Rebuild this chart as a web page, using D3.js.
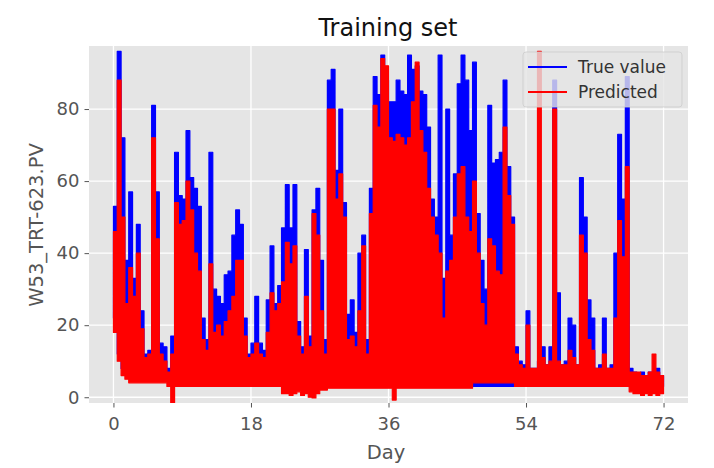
<!DOCTYPE html>
<html>
<head>
<meta charset="utf-8">
<script src="https://cdn.jsdelivr.net/npm/d3@7"></script>
<style>
  body { margin: 0; background: #ffffff; }
  text { font-family: "DejaVu Sans", sans-serif; }
</style>
</head>
<body>
<script>
var svg_width = 714;
var svg_height = 468;

// half-day bins, day 0 .. 72 (upper / lower envelope of each series)
var binStep = 0.5;
var blueHi = [53,96,72,38,57,33,48,24,12,13,81,57,15,14,8,17,68,56,55,74,
  61,58,53,22,16,68,30,28,26,34,35,45,52,48,22,12,15,28,15,13,
  27,42,26,31,47,59,47,59,21,14,41,17,52,58,38,16,88,91,63,80,
  54,23,27,18,40,45,16,58,89,84,95,88,82,82,88,85,84,95,91,92,
  85,84,75,55,50,95,33,80,45,62,87,95,88,74,93,51,38,30,81,65,
  66,68,88,64,50,14,10,9,24,8,8,10,14,9,14,88,29,9,10,22,
  20,9,61,50,27,22,8,9,22,8,9,40,73,55,89,8,7,6,7,6,
  7,7,8,6];
var redHi = [46,88,50,26,36,28,40,19,11,12,72,44,12,10,7,12,54,48,49,60,
  52,40,35,16,13,37,18,20,17,21,24,28,38,38,17,11,12,15,12,11,
  18,29,24,26,32,43,37,42,17,12,28,14,51,45,24,12,80,80,55,62,
  50,16,17,14,24,42,12,51,81,75,94,92,72,71,73,72,70,72,82,93,
  74,68,58,50,45,40,22,35,38,50,62,64,50,46,60,40,26,20,44,42,
  35,34,75,56,48,12,9,8,20,8,8,96,11,9,10,80,10,9,9,13,
  11,9,45,40,16,13,8,8,12,8,8,22,49,39,64,7,7,7,6,6,
  7,12,7,6];
var blueLo = [22,12,8,7,6,6,5,5,5,5,5,5,5,5,5,3,4,4,4,4,
  4,4,4,4,4,4,4,4,4,4,4,4,4,4,4,4,4,4,4,4,
  4,4,4,4,4,4,4,4,4,4,4,4,4,4,4,4,4,4,4,4,
  4,4,4,4,4,4,4,4,4,4,4,4,4,4,4,4,4,4,4,4,
  4,4,4,4,4,4,4,4,4,4,4,4,4,4,3,3,3,3,3,3,
  3,3,3,3,3,4,4,4,4,4,4,4,4,4,4,4,4,4,4,4,
  4,4,4,4,4,4,4,4,4,4,4,4,4,4,4,3,3,3,3,3,
  3,3,3,3];
var redLo = [18,10,6,5,4,4,4,4,4,4,4,4,4,4,3,-1.5,3,3,3,3,
  3,3,3,3,3,3,3,3,3,3,3,3,3,3,3,3,3,3,3,3,
  3,3,3,3,1,1,0.5,1,1.5,0.5,1,0,-0.2,1,2,2,2.5,2.5,2.5,2.5,
  2.5,2.5,2.5,2.5,2.5,2.5,2.5,2.5,2.5,2.5,2.5,2.5,2.5,-0.8,2.5,2.5,2.5,2.5,2.5,2.5,
  2.5,2.5,2.5,2.5,2.5,2.5,2.5,2.5,2.5,2.5,2.5,2.5,2.5,2.5,4,4,4,4,4,4,
  4,4,4,4,4,3,3,3,3,3,3,3,3,3,3,3,3,3,3,3,
  3,3,3,3,3,3,3,3,3,3,3,3,3,3,3,1.5,1,1,0.5,1,
  0.5,1,0.5,1];

var xTicks = [0, 18, 36, 54, 72];
var yTicks = [0, 20, 40, 60, 80];
var seriesNames = ["True value", "Predicted"];
var seriesColors = ["#0000ff", "#ff0000"];

var panel = { left: 89, right: 688, top: 46, bottom: 403 };

var svg = d3.select("body")
  .append("svg")
  .attr("width", svg_width)
  .attr("height", svg_height);

svg.append("rect")
  .attr("width", svg_width)
  .attr("height", svg_height)
  .attr("fill", "#ffffff");

var x = d3.scaleLinear().domain([-3.2, 75.2]).range([panel.left, panel.right]);
var y = d3.scaleLinear().domain([-1.6, 97.5]).range([panel.bottom, panel.top]);

// panel background + grid
svg.append("rect")
  .attr("x", panel.left)
  .attr("y", panel.top)
  .attr("width", panel.right - panel.left)
  .attr("height", panel.bottom - panel.top)
  .attr("fill", "#e5e5e5");

svg.append("g")
  .selectAll("line")
  .data(xTicks)
  .enter()
  .append("line")
  .attr("x1", d => x(d)).attr("x2", d => x(d))
  .attr("y1", panel.top).attr("y2", panel.bottom)
  .attr("stroke", "#ffffff").attr("stroke-width", 1.3);

svg.append("g")
  .selectAll("line")
  .data(yTicks)
  .enter()
  .append("line")
  .attr("x1", panel.left).attr("x2", panel.right)
  .attr("y1", d => y(d)).attr("y2", d => y(d))
  .attr("stroke", "#ffffff").attr("stroke-width", 1.3);

function makeSeries(hi, lo) {
  var pts = hi.map(function(v, i) {
    return { t: i * binStep, hi: v, lo: lo[i] };
  });
  var last = pts[pts.length - 1];
  pts.push({ t: hi.length * binStep, hi: last.hi, lo: last.lo });
  return pts;
}

var area = d3.area()
  .curve(d3.curveStepAfter)
  .x(d => x(d.t))
  .y0(d => y(d.lo))
  .y1(d => y(d.hi));

svg.append("clipPath").attr("id", "clip")
  .append("rect")
  .attr("x", panel.left).attr("y", panel.top)
  .attr("width", panel.right - panel.left)
  .attr("height", panel.bottom - panel.top);

var plot = svg.append("g").attr("clip-path", "url(#clip)");

[[blueHi, blueLo], [redHi, redLo]].forEach(function(s, k) {
  plot.append("path")
    .datum(makeSeries(s[0], s[1]))
    .attr("d", area)
    .attr("fill", seriesColors[k])
    .attr("stroke", seriesColors[k])
    .attr("stroke-width", 1.2)
    .attr("stroke-linejoin", "round");
});

// axes
var bottomAxis = d3.axisBottom(x).tickValues(xTicks).tickSize(4.5).tickPadding(10);
var leftAxis = d3.axisLeft(y).tickValues(yTicks).tickSize(4.5).tickPadding(5);

var gx = svg.append("g")
  .attr("transform", `translate(0, ${panel.bottom})`)
  .call(bottomAxis);
var gy = svg.append("g")
  .attr("transform", `translate(${panel.left}, 0)`)
  .call(leftAxis);

[gx, gy].forEach(function(g) {
  g.select(".domain").remove();
  g.selectAll(".tick line").attr("stroke", "#555555").attr("stroke-width", 1);
  g.selectAll(".tick text")
    .attr("fill", "#555555")
    .style("font-size", "18px");
});

// legend
var legend = svg.append("g");
legend.append("rect")
  .attr("x", 523).attr("y", 52)
  .attr("width", 159).attr("height", 55)
  .attr("rx", 3)
  .attr("fill", "#e5e5e5").attr("fill-opacity", 0.8)
  .attr("stroke", "#cccccc").attr("stroke-opacity", 0.8);

seriesNames.forEach(function(name, i) {
  var ly = 67 + i * 25;
  legend.append("line")
    .attr("x1", 528).attr("x2", 567)
    .attr("y1", ly).attr("y2", ly)
    .attr("stroke", seriesColors[i]).attr("stroke-width", 2);
  legend.append("text")
    .attr("x", 578).attr("y", ly)
    .attr("dy", "0.35em")
    .attr("fill", "#333333")
    .style("font-size", "17px")
    .text(name);
});

// titles
svg.append("text")
  .attr("x", 388).attr("y", 36)
  .attr("text-anchor", "middle")
  .attr("fill", "#111111")
  .style("font-size", "24px")
  .text("Training set");

svg.append("text")
  .attr("x", 386).attr("y", 459)
  .attr("text-anchor", "middle")
  .attr("fill", "#555555")
  .style("font-size", "19.5px")
  .text("Day");

svg.append("text")
  .attr("transform", "rotate(-90)")
  .attr("x", -225).attr("y", 43)
  .attr("text-anchor", "middle")
  .attr("fill", "#555555")
  .style("font-size", "19.5px")
  .text("W53_TRT-623.PV");
</script>
</body>
</html>
